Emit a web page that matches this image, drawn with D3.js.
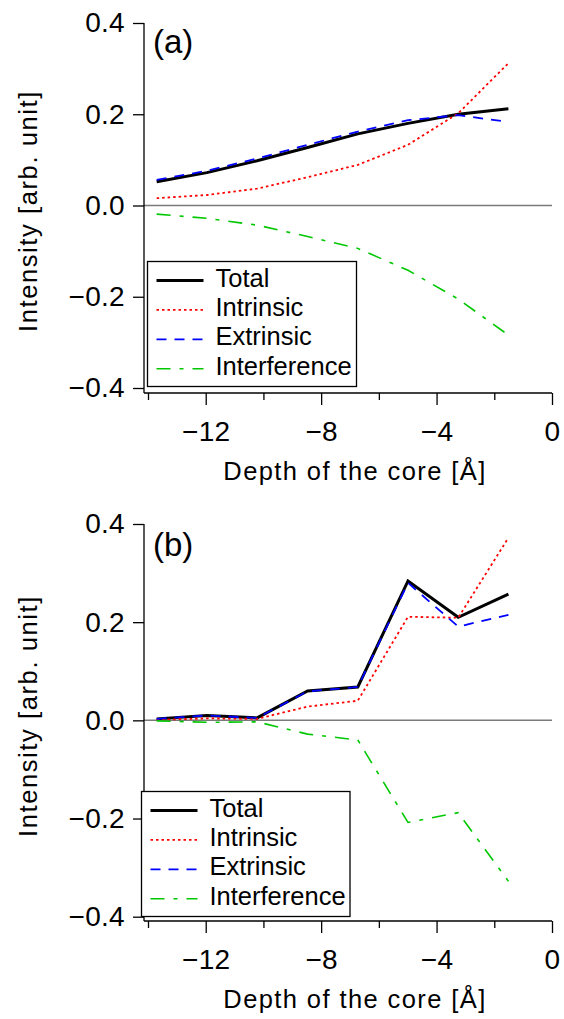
<!DOCTYPE html>
<html>
<head>
<meta charset="utf-8">
<script src="https://cdn.jsdelivr.net/npm/d3@7"></script>
<style>
  body { margin: 0; background: #fff; }
  svg text { font-family: "Liberation Sans", Arial, sans-serif; fill: #000; }
</style>
</head>
<body>
<div id="container"></div>
<script>
// depth of the core layer [Å]
const depth = [-13.70, -11.96, -10.22, -8.47, -6.73, -4.99, -3.25, -1.51]

// panel (a)
const totalA = [0.052, 0.072, 0.098, 0.127, 0.157, 0.180, 0.200, 0.212]
const intrinsicA = [0.016, 0.023, 0.037, 0.062, 0.089, 0.133, 0.202, 0.312]
const extrinsicA = [0.056, 0.076, 0.103, 0.133, 0.162, 0.187, 0.198, 0.183]
const interferenceA = [-0.019, -0.028, -0.043, -0.068, -0.094, -0.142, -0.205, -0.284]

// panel (b)
const totalB = [0.003, 0.010, 0.005, 0.060, 0.068, 0.284, 0.210, 0.257]
const intrinsicB = [0.001, 0.004, 0.003, 0.028, 0.040, 0.211, 0.209, 0.372]
const extrinsicB = [0.003, 0.010, 0.005, 0.059, 0.068, 0.280, 0.191, 0.215]
const interferenceB = [-0.001, -0.004, -0.003, -0.028, -0.040, -0.208, -0.188, -0.328]

const seriesNames = ['Total', 'Intrinsic', 'Extrinsic', 'Interference']
const xMajorTicks = [-12, -8, -4, 0]
const xMinorTicks = [-14, -10, -6, -2]
const yTicks = [-0.4, -0.2, 0.0, 0.2, 0.4]

const styles = [
  { color: '#000000', width: 3, dash: null },
  { color: '#ff0000', width: 1.8, dash: '2.5,3' },
  { color: '#0000ff', width: 1.8, dash: '10,8' },
  { color: '#00c800', width: 1.6, dash: '14,9,4,9' }
]

const width = 564
const height = 1019
const font = '"Liberation Sans", Arial, sans-serif'

const svg = d3.select('#container')
  .append('svg')
  .attr('width', width)
  .attr('height', height)

function drawPanel (cfg) {
  const x = d3.scaleLinear().domain([-14, 0]).range([148, 552])
  const y = d3.scaleLinear().domain([-0.4, 0.4]).range([cfg.yBottom, cfg.yTop])
  const axisX = 144
  const axisY = cfg.xAxisY
  const g = svg.append('g')

  // zero line
  g.append('line')
    .attr('x1', axisX).attr('x2', x(0))
    .attr('y1', y(0)).attr('y2', y(0))
    .attr('stroke', '#7a7a7a')
    .attr('stroke-width', 1.5)

  // y axis
  const yAxis = g.append('g')
    .attr('transform', `translate(${axisX},0)`)
    .call(d3.axisLeft(y).tickValues(yTicks).tickSize(11).tickSizeOuter(0)
      .tickPadding(8).tickFormat(d3.format('.1f')))
  yAxis.select('.domain').attr('d', `M0,${y(0.4)}V${axisY}`)
  yAxis.selectAll('text').attr('font-size', 28).attr('font-family', font)
    .attr('letter-spacing', 0.3)

  // x axis
  const xAxis = g.append('g')
    .attr('transform', `translate(0,${axisY})`)
    .call(d3.axisBottom(x).tickValues(xMajorTicks).tickSize(12).tickSizeOuter(0)
      .tickPadding(16).tickFormat(d3.format('d')))
  xAxis.select('.domain').attr('d', `M${axisX},0H${x(0)}`)
  xAxis.selectAll('text').attr('font-size', 28).attr('font-family', font)
    .attr('letter-spacing', 0.3)
  g.append('g')
    .attr('transform', `translate(0,${axisY})`)
    .call(d3.axisBottom(x).tickValues(xMinorTicks).tickSize(7).tickFormat(''))
    .select('.domain').remove()

  g.selectAll('.domain, .tick line')
    .attr('stroke', '#000')
    .attr('stroke-width', 1.3)

  // axis titles
  g.append('text')
    .attr('x', 355).attr('y', axisY + 87)
    .attr('text-anchor', 'middle')
    .attr('font-size', 25.5)
    .attr('letter-spacing', 1.4)
    .text('Depth of the core [Å]')
  g.append('text')
    .attr('transform', `translate(37,${cfg.yTitleY}) rotate(-90)`)
    .attr('text-anchor', 'middle')
    .attr('font-size', 25.5)
    .attr('letter-spacing', 1.6)
    .text('Intensity [arb. unit]')

  // panel label
  g.append('text')
    .attr('x', 153).attr('y', cfg.labelY)
    .attr('font-size', 33)
    .text(cfg.label)

  // curves
  const line = d3.line()
    .x((d, i) => x(depth[i]))
    .y(d => y(d))
  cfg.series.forEach((values, k) => {
    g.append('path')
      .datum(values)
      .attr('d', line)
      .attr('fill', 'none')
      .attr('stroke', styles[k].color)
      .attr('stroke-width', styles[k].width)
      .attr('stroke-dasharray', styles[k].dash)
      .attr('stroke-linejoin', 'miter')
  })

  // legend
  const lg = cfg.legend
  g.append('rect')
    .attr('x', lg.x).attr('y', lg.y)
    .attr('width', lg.w).attr('height', lg.h)
    .attr('fill', '#fff')
    .attr('stroke', '#000')
    .attr('stroke-width', 1.3)
  seriesNames.forEach((name, k) => {
    const by = lg.y + 25 + k * 29.4
    g.append('line')
      .attr('x1', lg.x + 9).attr('x2', lg.x + 56)
      .attr('y1', by - 6).attr('y2', by - 6)
      .attr('stroke', styles[k].color)
      .attr('stroke-width', styles[k].width)
      .attr('stroke-dasharray', styles[k].dash)
    g.append('text')
      .attr('x', lg.x + 68).attr('y', by)
      .attr('font-size', 25.5)
      .text(name)
  })
}

drawPanel({
  label: '(a)',
  labelY: 53,
  yTop: 23,
  yBottom: 388,
  xAxisY: 393,
  yTitleY: 211,
  series: [totalA, intrinsicA, extrinsicA, interferenceA],
  legend: { x: 147.5, y: 261.5, w: 209, h: 125 }
})

drawPanel({
  label: '(b)',
  labelY: 556,
  yTop: 524,
  yBottom: 916.7,
  xAxisY: 921,
  yTitleY: 716,
  series: [totalB, intrinsicB, extrinsicB, interferenceB],
  legend: { x: 141.5, y: 791.5, w: 208.5, h: 125 }
})
</script>
</body>
</html>
